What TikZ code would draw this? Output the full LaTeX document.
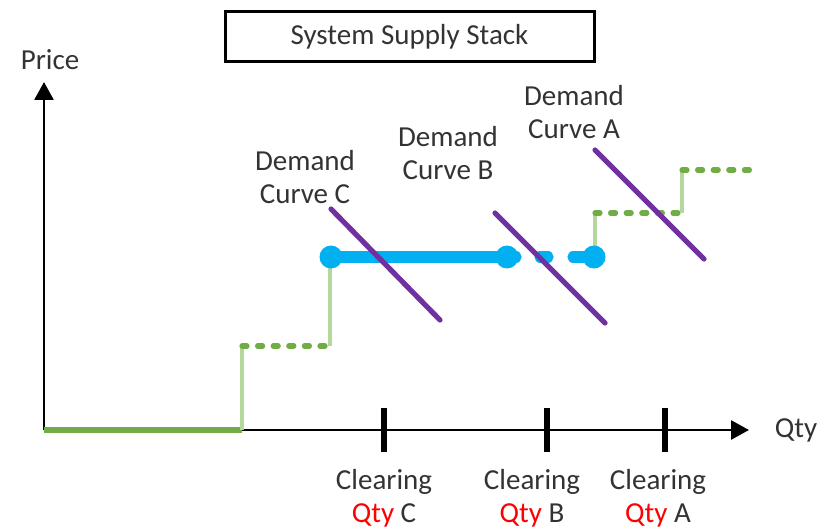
\documentclass[tikz,border=0pt]{standalone}
\usepackage{fontspec}
\setmainfont{Carlito}
\usetikzlibrary{arrows.meta}
\definecolor{txt}{HTML}{333333}
\definecolor{supply}{HTML}{70AD47}
\definecolor{riser}{HTML}{B4D79C}
\definecolor{clear}{HTML}{00B0F0}
\definecolor{demand}{HTML}{7030A0}
\tikzset{
  lbl/.style={text=txt, inner sep=0pt, align=center, font=\fontsize{14.5}{16.5}\selectfont},
  axisline/.style={line width=1.4pt, black, -{Triangle[length=9pt,width=9.5pt]}},
  tickmark/.style={line width=2.6pt, black},
  stepflat/.style={line width=2.6pt, supply, line cap=round, dash pattern=on 2.5pt off 5.3pt},
  steprise/.style={line width=1.9pt, riser},
  clearline/.style={line width=5.6pt, clear, line cap=round},
  clearpt/.style={circle, fill=clear, minimum size=11.5pt, inner sep=0pt},
  demandline/.style={line width=2.6pt, demand, line cap=round},
}
\begin{document}
\begin{tikzpicture}[x=0.5pt, y=-0.5pt]
\useasboundingbox (0,0) rectangle (829,529);

% title box
\node[lbl, draw=black, line width=1.5pt, minimum width=184.5pt, minimum height=25pt] (title) at (409.5,37) {System Supply Stack};

% axes
\coordinate (origin) at (44,430);
\coordinate (ytip) at (44,82);
\coordinate (xtip) at (749,430);
\draw[axisline] (origin) -- (ytip);
\draw[axisline] (origin) -- (xtip);
\node[lbl] (price) at (50,60) {Price};
\node[lbl] (qty) at (796,430) {Qty};

% supply stack
\coordinate (s0) at (242,430);
\coordinate (s1) at (242,346);
\coordinate (s2) at (330,346);
\coordinate (s3) at (330,257);
\coordinate (s4) at (595,257);
\coordinate (s5) at (595,213);
\coordinate (s6) at (682,213);
\coordinate (s7) at (682,170);
\coordinate (s8) at (750,170);
\draw[line width=2.6pt, supply] (origin) -- (s0);
\draw[steprise] (s0) -- (s1);
\draw[stepflat] (s1) -- (s2);
\draw[steprise] (s2) -- (s3);
\draw[steprise] (s4) -- (s5);
\draw[stepflat] (s5) -- (s6);
\draw[steprise] (s6) -- (s7);
\draw[stepflat] (s7) -- (s8);

% clearing price segment
\node[clearpt] (pc) at (331,257) {};
\node[clearpt] (pb) at (507,257) {};
\node[clearpt] (pa) at (594,257) {};
\coordinate (b1) at (516,257);
\coordinate (b2) at (540,257);
\coordinate (b3) at (548,257);
\coordinate (b4) at (573,257);
\draw[clearline] (pc.center) -- (b1);
\draw[clearline] (b2) -- (b3);
\draw[clearline] (b4) -- (pa.center);

% demand curves
\coordinate (dc1) at (331,209);
\coordinate (dc2) at (440,320);
\coordinate (db1) at (495,213);
\coordinate (db2) at (605,323);
\coordinate (da1) at (595,150);
\coordinate (da2) at (704,259);
\draw[demandline] (dc1) -- (dc2);
\draw[demandline] (db1) -- (db2);
\draw[demandline] (da1) -- (da2);
\node[lbl] (lc) at (305,177) {Demand\\Curve C};
\node[lbl] (lb) at (448,153) {Demand\\Curve B};
\node[lbl] (la) at (574,112) {Demand\\Curve A};

% clearing quantities
\coordinate (tc) at (384,430);
\coordinate (tb) at (547,430);
\coordinate (ta) at (665,430);
\draw[tickmark] ([yshift=11pt]tc) -- ([yshift=-11pt]tc);
\draw[tickmark] ([yshift=11pt]tb) -- ([yshift=-11pt]tb);
\draw[tickmark] ([yshift=11pt]ta) -- ([yshift=-11pt]ta);
\node[lbl] (qc) at (384,498) {Clearing\\\textcolor{red}{Qty} C};
\node[lbl] (qb) at (532,498) {Clearing\\\textcolor{red}{Qty} B};
\node[lbl] (qa) at (658,498) {Clearing\\\textcolor{red}{Qty} A};
\end{tikzpicture}
\end{document}
